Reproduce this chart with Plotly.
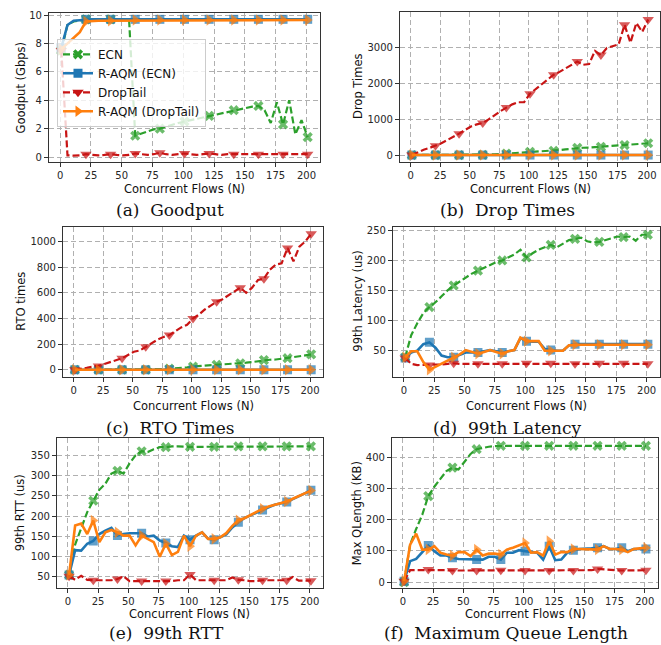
import plotly.graph_objects as go

W, H = 661, 645

flows = [1, 6, 11, 16, 21, 26, 31, 36, 41, 46,
         51, 56, 61, 66, 71, 76, 81, 86, 91, 96,
         101, 106, 111, 116, 121, 126, 131, 136, 141, 146,
         151, 156, 161, 166, 171, 176, 181, 186, 191, 196,
         201]
x_ticks = [0, 25, 50, 75, 100, 125, 150, 175, 200]
series_names = ["ECN", "R-AQM (ECN)", "DropTail", "R-AQM (DropTail)"]

# (a) Goodput (Gbps)
gp_ecn = [7.5, 9.3, 9.55, 9.65, 9.7, 9.7, 9.7, 9.7, 9.7, 9.7,
          9.7, 9.7, 1.5, 1.65, 1.8, 1.95, 2.0, 2.15, 2.3, 2.4,
          2.5, 2.6, 2.7, 2.8, 2.9, 3.0, 3.1, 3.2, 3.3, 3.4,
          3.5, 3.55, 3.6, 3.3, 2.4, 3.85, 2.3, 4.0, 1.6, 2.6,
          1.4]
gp_raqm_ecn = [7.7, 9.3, 9.6, 9.65, 9.7, 9.7, 9.7, 9.7, 9.7, 9.7,
               9.7, 9.7, 9.7, 9.7, 9.7, 9.7, 9.7, 9.7, 9.7, 9.7,
               9.7, 9.7, 9.7, 9.7, 9.7, 9.7, 9.7, 9.7, 9.7, 9.7,
               9.7, 9.7, 9.7, 9.7, 9.7, 9.7, 9.7, 9.7, 9.7, 9.7,
               9.7]
gp_dt = [7.5, 0.12, 0.1, 0.12, 0.2, 0.15, 0.12, 0.15, 0.2, 0.15,
         0.12, 0.15, 0.25, 0.2, 0.15, 0.2, 0.3, 0.2, 0.15, 0.2,
         0.25, 0.2, 0.15, 0.2, 0.25, 0.2, 0.15, 0.2, 0.2, 0.2,
         0.15, 0.2, 0.2, 0.2, 0.15, 0.2, 0.2, 0.2, 0.15, 0.2,
         0.2]
gp_raqm_dt = [7.6, 8.0, 8.4, 8.8, 9.55, 9.6, 9.6, 9.6, 9.6, 9.65,
              9.65, 9.65, 9.65, 9.65, 9.65, 9.65, 9.65, 9.65, 9.65, 9.65,
              9.65, 9.65, 9.65, 9.65, 9.65, 9.65, 9.65, 9.65, 9.65, 9.65,
              9.65, 9.65, 9.65, 9.65, 9.65, 9.65, 9.65, 9.65, 9.65, 9.65,
              9.65]

# (b) Drop Times
drop_ecn = [0, 0, 0, 0, 0, 0, 0, 0, 0, 0,
            0, 0, 5, 10, 20, 30, 40, 50, 60, 75,
            90, 100, 105, 110, 120, 140, 160, 180, 200, 205,
            210, 220, 230, 240, 250, 260, 280, 290, 300, 315,
            330]
drop_raqm_ecn = [0] * 41
drop_dt = [0, 80, 150, 200, 260, 330, 420, 500, 600, 700,
           800, 860, 900, 1000, 1120, 1230, 1330, 1420, 1480, 1480,
           1720, 1850, 1980, 2110, 2250, 2330, 2420, 2520, 2620, 2530,
           2550, 2920, 2800, 3000, 3050, 3100, 3650, 3150, 3700, 3450,
           3800]
drop_raqm_dt = [0] * 41

# (c) RTO times
rto_ecn = [0, 0, 0, 0, 0, 0, 0, 0, 0, 0,
           0, 0, 0, 0, 2, 5, 8, 10, 12, 18,
           25, 28, 32, 35, 38, 40, 42, 45, 50, 55,
           60, 68, 75, 78, 80, 85, 90, 98, 105, 112,
           120]
rto_raqm_ecn = [0] * 41
rto_dt = [0, 5, 15, 25, 30, 45, 60, 75, 90, 115,
          140, 150, 180, 210, 235, 255, 270, 300, 330, 350,
          400, 430, 470, 500, 530, 550, 580, 610, 640, 600,
          640, 700, 710, 780, 820, 830, 950, 845, 960, 1000,
          1060]
rto_raqm_dt = [0] * 41

# (d) 99th Latency (us)
lat_ecn = [38, 75, 95, 112, 122, 130, 140, 150, 158, 165,
           172, 178, 183, 188, 193, 197, 200, 205, 210, 218,
           205, 212, 218, 222, 226, 222, 228, 234, 236, 238,
           232, 230, 231, 234, 238, 240, 239, 240, 233, 243,
           243]
lat_raqm_ecn = [37, 46, 49, 60, 63, 54, 41, 38, 38, 42,
                46, 46, 46, 48, 50, 48, 46, 48, 50, 70,
                65, 64, 64, 52, 50, 49, 49, 58, 60, 60,
                60, 60, 60, 60, 60, 60, 60, 60, 60, 60,
                60]
lat_dt = [37, 27, 25, 25, 25, 25, 26, 27, 28, 27,
          27, 27, 27, 27, 27, 27, 27, 27, 27, 27,
          28, 27, 27, 28, 28, 27, 27, 27, 27, 27,
          27, 27, 28, 27, 27, 27, 28, 27, 27, 27,
          27]
lat_raqm_dt = [38, 48, 48, 30, 17, 22, 28, 33, 38, 43,
               50, 47, 44, 47, 50, 47, 44, 48, 50, 71,
               65, 65, 65, 49, 49, 49, 49, 58, 59, 59,
               59, 59, 59, 59, 59, 59, 59, 59, 59, 59,
               59]

# (e) 99th RTT (us)
rtt_ecn = [55, 130, 170, 210, 238, 265, 280, 305, 312, 305,
           330, 350, 360, 358, 365, 370, 370, 372, 372, 371,
           371, 371, 371, 371, 371, 371, 371, 372, 372, 372,
           372, 372, 372, 372, 372, 372, 372, 372, 372, 372,
           372]
rtt_raqm_ecn = [55, 116, 115, 132, 139, 156, 164, 171, 152, 156,
                158, 158, 158, 150, 152, 140, 134, 126, 124, 152,
                142, 152, 160, 144, 142, 148, 155, 172, 185, 195,
                202, 210, 215, 222, 228, 232, 235, 242, 248, 256,
                264]
rtt_dt = [52, 43, 53, 43, 42, 42, 42, 42, 45, 52,
          40, 40, 40, 40, 40, 40, 40, 40, 42, 42,
          56, 42, 42, 42, 42, 42, 42, 49, 43, 42,
          40, 40, 42, 42, 42, 42, 42, 50, 41, 41,
          41]
rtt_raqm_dt = [55, 177, 182, 156, 189, 136, 160, 166, 160, 152,
               152, 128, 152, 144, 136, 100, 132, 104, 112, 152,
               126, 152, 160, 144, 144, 148, 158, 176, 190, 195,
               203, 212, 218, 224, 228, 232, 236, 243, 250, 257,
               263]

# (f) Max QLength (KB)
ql_ecn = [0, 120, 170, 215, 275, 305, 330, 355, 366, 360,
          385, 410, 425, 430, 433, 435, 436, 436, 436, 436,
          436, 436, 436, 436, 436, 436, 436, 436, 436, 436,
          436, 436, 436, 436, 436, 436, 436, 436, 436, 436,
          436]
ql_raqm_ecn = [3, 67, 74, 94, 117, 99, 85, 85, 78, 74,
               74, 74, 72, 72, 81, 81, 72, 94, 94, 102,
               99, 96, 94, 72, 115, 70, 72, 94, 102, 106,
               106, 108, 110, 115, 106, 106, 110, 99, 106, 106,
               106]
ql_dt = [3, 38, 38, 38, 40, 38, 38, 38, 37, 37,
         37, 37, 37, 37, 37, 38, 38, 38, 38, 38,
         37, 37, 37, 37, 37, 37, 37, 37, 37, 37,
         38, 38, 42, 40, 38, 38, 37, 37, 38, 38,
         38]
ql_raqm_dt = [3, 120, 155, 104, 104, 115, 94, 88, 85, 96,
              96, 83, 104, 85, 91, 91, 88, 104, 110, 117,
              125, 94, 96, 85, 131, 88, 96, 96, 106, 106,
              106, 106, 104, 115, 106, 106, 104, 96, 106, 108,
              110]

colors = ["#2ca02c", "#1f77b4", "#c81414", "#ff7f0e"]
symbols = ["x", "square", "triangle-down", "triangle-right"]
dashes = ["7px,3px", "solid", "7px,3px", "solid"]
widths = [2.2, 2.6, 2.2, 2.6]
msizes = [9, 9, 10, 10]

panels = [
    dict(data=[gp_ecn, gp_raqm_ecn, gp_dt, gp_raqm_dt], ytitle="Goodput (Gbps)",
         yrange=[-0.35, 10.15], yticks=[0, 2, 4, 6, 8, 10], box=(49, 320, 10, 160),
         ytx=21, caption="(a)  Goodput", cap=(170, 208), xt=187),
    dict(data=[drop_ecn, drop_raqm_ecn, drop_dt, drop_raqm_dt], ytitle="Drop Times",
         yrange=[-195, 4010], yticks=[0, 1000, 2000, 3000], box=(400, 660, 9, 160),
         ytx=358, caption="(b)  Drop Times", cap=(507, 208), xt=187),
    dict(data=[rto_ecn, rto_raqm_ecn, rto_dt, rto_raqm_dt], ytitle="RTO times",
         yrange=[-54, 1116], yticks=[0, 200, 400, 600, 800, 1000], box=(63, 323, 225, 376),
         ytx=21, caption="(c)  RTO Times", cap=(170, 428), xt=406),
    dict(data=[lat_ecn, lat_raqm_ecn, lat_dt, lat_raqm_dt], ytitle="99th Latency (us)",
         yrange=[5.6, 256.6], yticks=[50, 100, 150, 200, 250], box=(393, 660, 225, 376),
         ytx=358, caption="(d)  99th Latency", cap=(507, 428), xt=406),
    dict(data=[rtt_ecn, rtt_raqm_ecn, rtt_dt, rtt_raqm_dt], ytitle="99th RTT (us)",
         yrange=[22, 392], yticks=[50, 100, 150, 200, 250, 300, 350], box=(57, 323, 438, 589),
         ytx=20, caption="(e)  99th RTT", cap=(166, 634), xt=615),
    dict(data=[ql_ecn, ql_raqm_ecn, ql_dt, ql_raqm_dt], ytitle="Max QLength (KB)",
         yrange=[-20, 460], yticks=[0, 100, 200, 300, 400], box=(392, 658, 438, 589),
         ytx=357, caption="(f)  Maximum Queue Length", cap=(506, 634), xt=615),
]

fig = go.Figure()
annotations = []
axis_font = dict(family="DejaVu Sans", size=10, color="#262626")
label_font = dict(family="DejaVu Sans", size=11.5, color="#111")

for i, p in enumerate(panels):
    n = i + 1
    xa = "x" if n == 1 else f"x{n}"
    ya = "y" if n == 1 else f"y{n}"
    for s in range(4):
        vals = p["data"][s]
        sizes = [msizes[s] if k % 4 == 0 else 0 for k in range(len(flows))]
        fig.add_trace(go.Scatter(
            x=flows, y=vals, xaxis=xa, yaxis=ya, mode="lines+markers",
            line=dict(color=colors[s], width=widths[s], dash=dashes[s]),
            marker=dict(symbol=symbols[s], size=sizes, color=colors[s], line=dict(width=0)),
            showlegend=False, name=series_names[s], hoverinfo="skip"))
    l, r, t, b = p["box"]
    common = dict(showline=True, mirror=True, linecolor="#333", linewidth=1.2,
                  ticks="outside", ticklen=4, tickcolor="#333", tickwidth=1,
                  showgrid=True, gridcolor="#b0b0b0", gridwidth=1.2, griddash="5px,3px",
                  zeroline=False, tickfont=axis_font)
    fig.layout[f"xaxis{'' if n == 1 else n}"] = dict(
        domain=[l / W, r / W], anchor=ya, range=[-9, 211], tickvals=x_ticks, **common)
    fig.layout[f"yaxis{'' if n == 1 else n}"] = dict(
        domain=[1 - b / H, 1 - t / H], anchor=xa, range=p["yrange"], tickvals=p["yticks"], **common)
    annotations.append(dict(x=(l + r) / 2 / W, y=1 - p["xt"] / H, xref="paper", yref="paper",
                            text="Concurrent Flows (N)", showarrow=False, font=label_font,
                            xanchor="center", yanchor="middle"))
    annotations.append(dict(x=p["ytx"] / W, y=1 - (t + b) / 2 / H, xref="paper", yref="paper",
                            text=p["ytitle"], showarrow=False, font=label_font, textangle=-90,
                            xanchor="center", yanchor="middle"))
    annotations.append(dict(x=p["cap"][0] / W, y=1 - p["cap"][1] / H, xref="paper", yref="paper",
                            text=p["caption"], showarrow=False,
                            font=dict(family="DejaVu Serif", size=17, color="#111"),
                            xanchor="center", yanchor="middle"))

# legend entries (drawn in panel a)
for s in range(4):
    fig.add_trace(go.Scatter(
        x=[None], y=[None], mode="lines+markers", name=series_names[s],
        line=dict(color=colors[s], width=widths[s], dash=dashes[s]),
        marker=dict(symbol=symbols[s], size=msizes[s], color=colors[s], line=dict(width=0)),
        showlegend=True))

fig.update_layout(
    width=W, height=H, margin=dict(l=0, r=0, t=0, b=0),
    paper_bgcolor="white", plot_bgcolor="white",
    annotations=annotations,
    legend=dict(x=57 / W, y=1 - 36 / H, xanchor="left", yanchor="top",
                bgcolor="rgba(255,255,255,0.8)", bordercolor="#cccccc", borderwidth=1,
                font=dict(family="DejaVu Sans", size=12, color="#111"),
                tracegroupgap=0, itemwidth=30),
)

fig.write_html("out.html", config={"displayModeBar": False},
               post_script="document.body.style.margin='0';document.body.style.overflow='hidden';")
